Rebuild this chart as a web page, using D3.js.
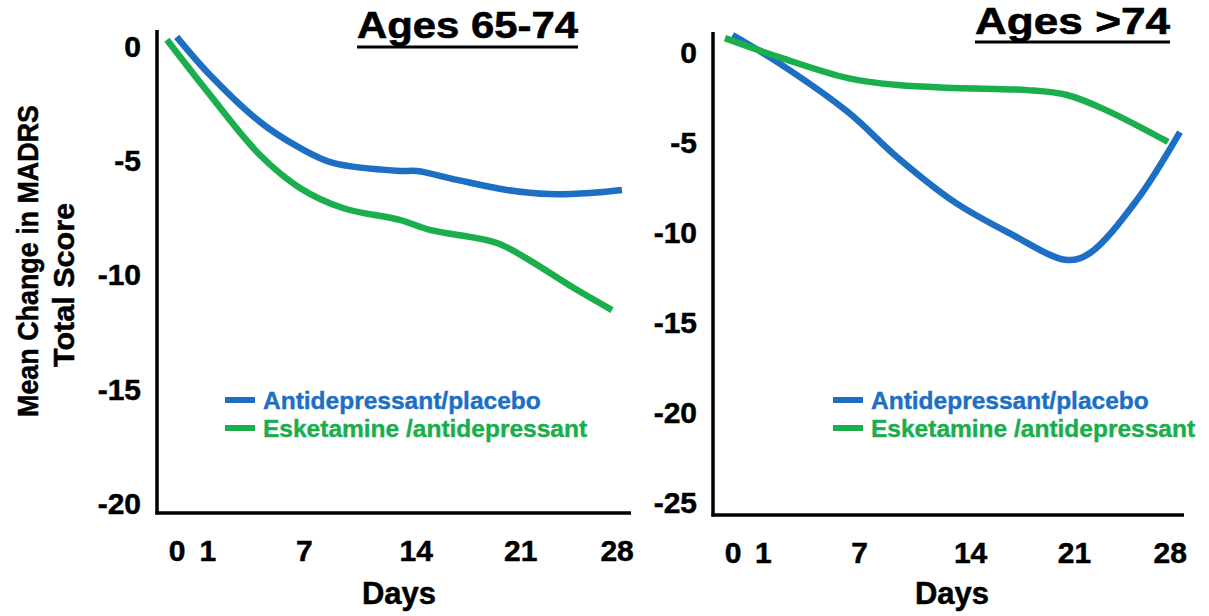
<!DOCTYPE html>
<html>
<head>
<meta charset="utf-8">
<script src="https://cdn.jsdelivr.net/npm/d3@7"></script>
<style>
  html, body { margin: 0; padding: 0; background: #fff; }
  svg { display: block; }
  text { font-family: "Liberation Sans", Arial, Helvetica, sans-serif; font-weight: bold; }
</style>
</head>
<body>
<svg id="chart" width="1209" height="616"></svg>
<script>
// ---------- data ----------
const dayTicks = [0, 1, 7, 14, 21, 28];
const seriesNames = ["Antidepressant/placebo", "Esketamine /antidepressant"];
const seriesColors = ["#1c6fc2", "#1aae4c"];

const panelTitles = ["Ages 65-74", "Ages >74"];
const yTicksLeft = [0, -5, -10, -15, -20];
const yTicksRight = [0, -5, -10, -15, -20, -25];

// Ages 65-74
const left_placeboDays   = [0, 1.17, 4.27, 6.75, 8.82, 13.0, 14.08, 16.77, 20.1, 23.16, 26.07, 28.39];
const left_placeboValues = [0.44, -1.23, -3.28, -4.42, -5.08, -5.43, -5.43, -5.82, -6.26, -6.44, -6.39, -6.26];
const left_esketDays     = [-0.32, 1.17, 4.27, 6.75, 9.44, 13.0, 14.95, 19.44, 21.66, 24.78, 27.67];
const left_esketValues   = [0.31, -2.10, -4.73, -6.17, -7.05, -7.57, -8.01, -8.58, -9.33, -10.51, -11.52];

// Ages >74
const right_placeboDays   = [0, 2.19, 6.31, 9.46, 13.05, 16.63, 20.54, 22.18, 25.6, 28.75];
const right_placeboValues = [1.0, -0.67, -3.28, -5.83, -8.3, -10.0, -11.5, -11.11, -8.17, -4.39];
const right_esketDays     = [-0.25, 2.19, 6.31, 9.46, 13.05, 17.85, 20.54, 23.35, 27.88];
const right_esketValues   = [0.83, -0.28, -1.39, -1.78, -1.94, -2.06, -2.33, -3.17, -4.94];

// ---------- layout ----------
const svg = d3.select("#chart");
const tickFrac = [0.0415, 0.106, 0.31, 0.5458, 0.7662, 0.9696];
const FONT = '"Liberation Sans", Arial, sans-serif';

const panels = [
  {
    title: panelTitles[0], titleX0: 357, titleX1: 578, titleBase: 38, underlineY: 47,
    x0: 157, x1: 631, yTop: 30, yBot: 513, yDomain: [0.74, -20.4], yTicks: yTicksLeft,
    series: [
      {days: left_placeboDays, values: left_placeboValues},
      {days: left_esketDays, values: left_esketValues}
    ],
    legendX: 225, legendY: 400, daysX: 399
  },
  {
    title: panelTitles[1], titleX0: 975, titleX1: 1170, titleBase: 34, underlineY: 42,
    x0: 713, x1: 1184, yTop: 32, yBot: 515, yDomain: [1.17, -25.67], yTicks: yTicksRight,
    series: [
      {days: right_placeboDays, values: right_placeboValues},
      {days: right_esketDays, values: right_esketValues}
    ],
    legendX: 833, legendY: 400, daysX: 952
  }
];

panels.forEach(p => {
  const g = svg.append("g");
  const w = p.x1 - p.x0;
  const x = d3.scaleLinear().domain(dayTicks).range(tickFrac.map(f => p.x0 + f * w));
  const y = d3.scaleLinear().domain(p.yDomain).range([p.yTop, p.yBot]);

  // axes lines
  g.append("line").attr("x1", p.x0).attr("x2", p.x0).attr("y1", p.yTop).attr("y2", p.yBot + 1.5)
    .attr("stroke", "#000").attr("stroke-width", 3.5);
  g.append("line").attr("x1", p.x0 - 1.5).attr("x2", p.x1).attr("y1", p.yBot).attr("y2", p.yBot)
    .attr("stroke", "#000").attr("stroke-width", 3.5);

  // y axis labels
  const ya = g.append("g").attr("transform", `translate(${p.x0},0)`)
    .call(d3.axisLeft(y).tickValues(p.yTicks).tickSize(0).tickPadding(16).tickFormat(d => String(d)));
  ya.select(".domain").remove();
  ya.selectAll("text").attr("font-size", 30).attr("fill", "#000")
    .attr("stroke", "#000").attr("stroke-width", 0.5)
    .style("font-family", FONT).style("font-weight", "bold");

  // x axis labels
  const xa = g.append("g").attr("transform", `translate(0,${p.yBot})`)
    .call(d3.axisBottom(x).tickValues(dayTicks).tickSize(0).tickPadding(27).tickFormat(d => String(d)));
  xa.select(".domain").remove();
  xa.selectAll("text").attr("font-size", 30).attr("fill", "#000")
    .attr("stroke", "#000").attr("stroke-width", 0.5)
    .style("font-family", FONT).style("font-weight", "bold");

  // x axis title
  g.append("text").attr("x", p.daysX).attr("y", 604).attr("text-anchor", "middle")
    .attr("font-size", 31).attr("stroke", "#000").attr("stroke-width", 0.5).text("Days");

  // title with underline
  g.append("text").attr("x", p.titleX0).attr("y", p.titleBase)
    .attr("font-size", 37).attr("textLength", p.titleX1 - p.titleX0)
    .attr("lengthAdjust", "spacingAndGlyphs")
    .attr("stroke", "#000").attr("stroke-width", 0.6).text(p.title);
  g.append("line").attr("x1", p.titleX0).attr("x2", p.titleX1)
    .attr("y1", p.underlineY).attr("y2", p.underlineY)
    .attr("stroke", "#000").attr("stroke-width", 3);

  // lines
  const line = d3.line().x(d => x(d[0])).y(d => y(d[1])).curve(d3.curveCatmullRom.alpha(0.5));
  p.series.forEach((s, i) => {
    const pts = s.days.map((d, k) => [d, s.values[k]]);
    g.append("path").attr("d", line(pts)).attr("fill", "none")
      .attr("stroke", seriesColors[i]).attr("stroke-width", 6.5)
      .attr("stroke-linejoin", "round");
  });

  // legend
  seriesNames.forEach((name, i) => {
    const ly = p.legendY + i * 28;
    g.append("line").attr("x1", p.legendX).attr("x2", p.legendX + 30)
      .attr("y1", ly).attr("y2", ly).attr("stroke", seriesColors[i]).attr("stroke-width", 6);
    g.append("text").attr("x", p.legendX + 38).attr("y", ly).attr("dy", "0.36em")
      .attr("font-size", 24.5).attr("fill", seriesColors[i])
      .attr("stroke", seriesColors[i]).attr("stroke-width", 0.4).text(name);
  });
});

// shared y-axis title
const yt = svg.append("g");
yt.append("text").attr("transform", "translate(38,261) rotate(-90)")
  .attr("text-anchor", "middle").attr("font-size", 29)
  .attr("stroke", "#000").attr("stroke-width", 0.5)
  .attr("textLength", 312).attr("lengthAdjust", "spacingAndGlyphs").text("Mean Change in MADRS");
yt.append("text").attr("transform", "translate(74,285) rotate(-90)")
  .attr("text-anchor", "middle").attr("font-size", 29)
  .attr("stroke", "#000").attr("stroke-width", 0.5)
  .attr("textLength", 164).attr("lengthAdjust", "spacingAndGlyphs").text("Total Score");
</script>
</body>
</html>
